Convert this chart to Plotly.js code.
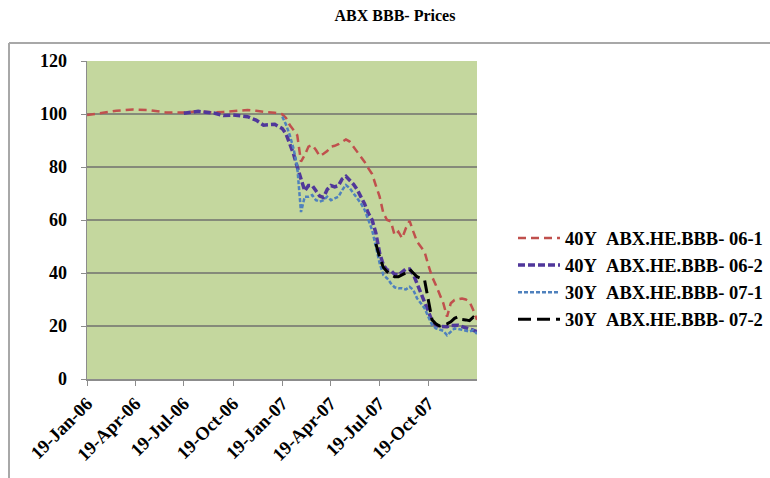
<!DOCTYPE html>
<html>
<head>
<meta charset="utf-8">
<script src="https://cdn.plot.ly/plotly-3.0.1.min.js"></script>
<style>html,body{margin:0;padding:0;background:#fff;}#chart{width:770px;height:478px;}</style>
</head>
<body>
<div id="chart"></div>
<script>
const dates = [
  '2006-01-19','2006-02-15','2006-03-15','2006-04-15','2006-05-15','2006-06-15',
  '2006-07-19','2006-08-15','2006-09-15','2006-10-01','2006-10-19','2006-11-15','2006-12-01','2006-12-15',
  '2007-01-05',
  '2007-01-19','2007-01-26','2007-02-02','2007-02-09','2007-02-16','2007-02-23',
  '2007-03-02','2007-03-09','2007-03-16','2007-03-23','2007-03-30',
  '2007-04-06','2007-04-13','2007-04-20','2007-04-27',
  '2007-05-04','2007-05-11','2007-05-18','2007-05-25',
  '2007-06-01','2007-06-08','2007-06-15','2007-06-22','2007-06-29',
  '2007-07-06','2007-07-13','2007-07-20','2007-07-27',
  '2007-08-03','2007-08-10','2007-08-17','2007-08-24','2007-08-31',
  '2007-09-07','2007-09-14','2007-09-21','2007-09-28',
  '2007-10-05','2007-10-12','2007-10-19','2007-10-26',
  '2007-11-02','2007-11-09','2007-11-16','2007-11-23','2007-11-30',
  '2007-12-07','2007-12-14','2007-12-21','2007-12-28',
  '2008-01-04','2008-01-11','2008-01-18'
];

// 40Y ABX.HE.BBB- 06-1 (from 2006-01-19)
const abx061 = [99.6,100.5,101.2,101.7,101.5,100.6,100.6,101.0,100.6,100.8,101.0,101.5,101.2,100.8,100.5,
  99.9,98.5,95.8,94.0,92.0,82.0,84.5,87.7,88.3,86.4,84.1,85.0,86.0,87.7,88.0,88.6,89.6,90.4,89.6,87.7,
  85.8,83.9,81.9,79.5,77.3,73.0,68.8,62.5,60.0,59.5,54.3,55.6,53.1,56.9,59.7,55.6,51.8,49.9,48.0,43.0,
  38.6,35.5,32.3,28.6,23.5,28.6,29.8,30.2,30.4,30.0,29.2,26.0,22.3];
// 40Y ABX.HE.BBB- 06-2 (from 2006-07-19)
const abx062 = [100.3,101.0,100.3,99.4,99.6,99.0,97.7,95.8,96.1,
  94.5,92.5,89,85,80,76,71,73,73,71,69,68.5,71.5,73,72.5,73,75.5,76.5,75,73.5,
  71.5,69,66,62.5,60,55,47.5,43,41,41,39.5,39.2,40.3,41.5,41.5,39.5,36,32.5,29.8,25.5,
  21.8,20.4,19.8,19.8,19.7,20.2,20.4,20.3,19.8,19.3,18.7,18.3,17.9];
// 30Y ABX.HE.BBB- 07-1 (from 2007-01-19)
const abx071 = [99,96,92,87,80,63,68.8,68.8,69.4,67.5,66.9,67.5,68.8,67.5,68.2,68.8,71.3,73.2,72,70,
  68.2,66.3,63.8,60,56.2,49.9,43.7,39.2,38,36.1,34.6,34.2,34.2,33.8,34.8,33.6,30.4,28.6,26.7,23.5,
  20.4,19.1,18.7,18.2,16.5,17.9,19.1,18.9,18.5,18.2,17.9,18.5,17];
// 30Y ABX.HE.BBB- 07-2 (from 2007-07-13)
const abx072 = [51,46,42.1,40.5,39.5,38.6,38.6,39.2,40.1,41.4,39.9,38.6,38,37.4,29.8,22.3,20.8,20,
  20.4,20.8,21.6,22.9,23.5,22.5,22.3,22,23.3,22.3];

const seriesNames = ['40Y\u00a0\u00a0ABX.HE.BBB- 06-1','40Y\u00a0\u00a0ABX.HE.BBB- 06-2',
                     '30Y\u00a0\u00a0ABX.HE.BBB- 07-1','30Y\u00a0\u00a0ABX.HE.BBB- 07-2'];
const tickDates = ['2006-01-19','2006-04-19','2006-07-19','2006-10-19','2007-01-19','2007-04-19','2007-07-19','2007-10-19'];
const tickLabels = ['19-Jan-06','19-Apr-06','19-Jul-06','19-Oct-06','19-Jan-07','19-Apr-07','19-Jul-07','19-Oct-07'];

const serif = '"Liberation Serif","Times New Roman",serif';
const values = [abx061, abx062, abx071, abx072];
const styles = [
  {color:'#C0504D', width:2.5, dash:'8px,5px'},
  {color:'#50379A', width:3.5, dash:'7px,3px'},
  {color:'#4F81BD', width:2.5, dash:'4px,2px'},
  {color:'#000000', width:3, dash:'13px,6px'}
];
const traces = values.map((v,i)=>({
  type:'scatter', mode:'lines',
  x: dates.slice(dates.length - v.length), y: v,
  name: seriesNames[i], legendgroup:'g'+i,
  line: styles[i]
}));

const L = 87, R = 477, T = 61, B = 379;
const pw = R-L, ph = B-T;
const px = v => (v-L)/pw, py = v => (B-v)/ph;

const layout = {
  width:770, height:478,
  margin:{l:L, r:770-R, t:T, b:478-B, pad:0, autoexpand:false},
  paper_bgcolor:'#ffffff', plot_bgcolor:'#C4D79E',
  font:{family:serif, color:'#000'},
  title:{text:'<b>ABX BBB- Prices</b>', font:{family:serif, size:16, color:'#000'},
         xref:'container', x:395/770, xanchor:'center', yref:'container', y:1-15/478, yanchor:'middle'},
  xaxis:{type:'date', range:['2006-01-19','2008-01-18'], tickmode:'array', tickvals:tickDates, ticktext:tickLabels,
         tickangle:-45, tickfont:{family:serif, size:18.5, color:'#000', weight:'bold'},
         ticks:'outside', ticklen:5, tickcolor:'#8c8c8c', showline:true, linecolor:'#8c8c8c', linewidth:1.5,
         showgrid:false, zeroline:false, fixedrange:true, automargin:false},
  yaxis:{range:[0,120], dtick:20, tick0:0, tickfont:{family:serif, size:18, color:'#000', weight:'bold'},
         ticks:'outside', ticklen:5, tickcolor:'#8c8c8c', showline:true, linecolor:'#8c8c8c', linewidth:1.5,
         showgrid:true, gridcolor:'#858a7a', gridwidth:1.5, zeroline:false, ticklabelstandoff:10, automargin:false},
  showlegend:true,
  legend:{x:px(513), xanchor:'left', y:py(279), yanchor:'middle', bgcolor:'rgba(0,0,0,0)',
          font:{family:serif, size:18.5, color:'#000', weight:'bold'}, tracegroupgap:0, itemwidth:42},
  shapes:[
    {type:'line', xref:'paper', yref:'paper', x0:px(9), x1:px(770), y0:py(43), y1:py(43), line:{color:'#a8a8a8', width:2}},
    {type:'line', xref:'paper', yref:'paper', x0:px(9), x1:px(9), y0:py(43), y1:py(478), line:{color:'#a8a8a8', width:2}}
  ]
};
Plotly.newPlot('chart', traces, layout, {displayModeBar:false, staticPlot:true});
</script>
</body>
</html>
